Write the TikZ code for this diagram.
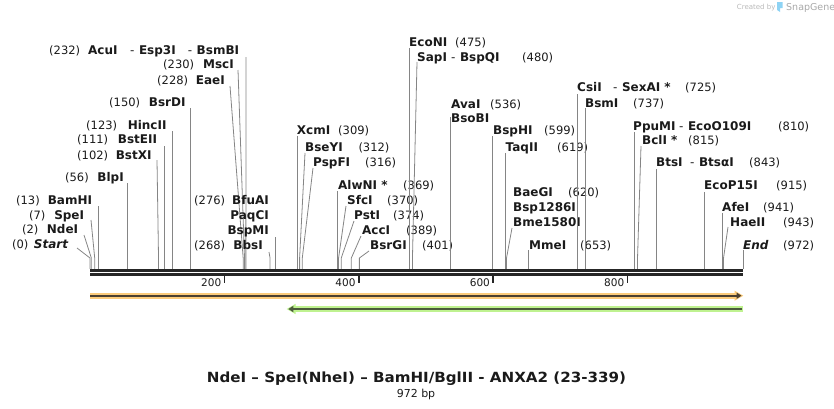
\documentclass[tikz,border=0pt]{standalone}
\usepackage{fontspec}
\setmainfont{DejaVu Sans}
\newfontfamily\titlefont[FakeStretch=1.08]{DejaVu Sans}
\usetikzlibrary{arrows.meta}
\definecolor{ink}{HTML}{1A1A1A}
\definecolor{lead}{HTML}{858585}
\definecolor{orf}{HTML}{FBCB7B}
\definecolor{orfline}{HTML}{4A3F30}
\definecolor{grn}{HTML}{BFF290}
\definecolor{grnline}{HTML}{4B5A3C}
\definecolor{bb}{HTML}{262626}
\definecolor{logo}{HTML}{A8A8A8}
\definecolor{logoblue}{HTML}{8ED3F4}
\begin{document}
\begin{tikzpicture}[x=1pt,y=-1pt,
  nm/.style={anchor=base west,inner sep=0,font=\fontsize{12}{14}\selectfont\bfseries,text=ink},
  nmr/.style={nm,anchor=base east},
  nmi/.style={nm,font=\fontsize{12}{14}\selectfont\bfseries\itshape},
  nmir/.style={nmi,anchor=base east},
  num/.style={anchor=base west,inner sep=0,font=\fontsize{11.5}{14}\selectfont,text=ink},
  ld/.style={draw=lead,line width=0.8pt},
  bbline/.style={draw=bb,line width=2.7pt},
  tick/.style={draw=bb,line width=1.6pt},
  ticklab/.style={anchor=base east,inner sep=0,font=\fontsize{10.5}{12}\selectfont,text=ink},
]
\useasboundingbox (0,0) rectangle (834,408);

% ---------- backbone ----------
\coordinate (bbL1) at (90,270.3);
\coordinate (bbR1) at (743,270.3);
\coordinate (bbL2) at (90,274.4);
\coordinate (bbR2) at (743,274.4);
\draw[bbline] (bbL1) -- (bbR1);
\draw[bbline] (bbL2) -- (bbR2);

% ticks
\foreach \v/\xx in {200/224.4,400/358.7,600/493.1,800/627.4}{
  \coordinate (t\v a) at (\xx,275.5);
  \coordinate (t\v b) at (\xx,283);
  \draw[tick] (t\v a) -- (t\v b);
  \node[ticklab] (tl\v) at (\xx-3,286.5) {\v};
}

% ---------- features ----------
\coordinate (oL) at (90,295.7);
\coordinate (oR) at (737,295.7);
\coordinate (oT) at (743.3,295.7);
\draw[orf,line width=6.4pt] (oL) -- (oR);
\fill[orf] (734.5,290.6) -- (oT) -- (734.5,300.8) -- cycle;
\draw[orfline,line width=1.6pt,-{Triangle[length=5pt,width=6pt]}] (oL) -- (741.5,295.7);

\coordinate (gL) at (286.7,309);
\coordinate (gR) at (743,309);
\draw[grn,line width=6.4pt] (293,309) -- (gR);
\fill[grn] (295.5,303.9) -- (gL) -- (295.5,314.1) -- cycle;
\draw[grnline,line width=1.6pt,-{Triangle[length=5pt,width=6pt]}] (741.5,309) -- (288.3,309);

% ---------- site coordinates ----------
\foreach \p/\xx in {0/90,2/91.34,7/94.70,13/98.73,56/127.62,102/158.52,111/164.57,123/172.63,150/190.77,228/243.17,230/244.51,232/245.86,268/270.04,276/275.42,309/297.59,312/299.60,316/302.29,369/337.89,370/338.57,374/341.25,389/351.33,401/359.39,475/409.11,480/412.46,536/450.08,599/492.41,619/505.84,620/506.51,653/528.69,725/577.06,737/585.12,810/634.16,815/637.52,843/656.33,915/704.70,941/722.16,943/723.51,972/743}{
  \coordinate (s\p) at (\xx,268.9);
  \coordinate (k\p) at (\xx,258);
}

% ---------- left labels ----------
\node[num] (n232) at (49,54.5) {(232)};
\node[nm] (e232a) at (88,54.5) {AcuI};
\node[nm] (e232b) at (130,54.5) {{\mdseries -}\hspace{4.5pt}Esp3I};
\node[nm] (e232c) at (187.7,54.5) {{\mdseries -}\hspace{4.5pt}BsmBI};
\draw[ld] (246,57) -- (s232);

\node[num] (n230) at (163,68.5) {(230)};
\node[nmr] (e230) at (234,68.5) {MscI};
\draw[ld] (238,70) -- (k230) -- (s230);

\node[num] (n228) at (157,84.5) {(228)};
\node[nmr] (e228) at (225,84.5) {EaeI};
\draw[ld] (230,86) -- (k228) -- (s228);

\node[num] (n150) at (109,106.5) {(150)};
\node[nmr] (e150) at (185.7,106.5) {BsrDI};
\draw[ld] (190.77,108) -- (s150);

\node[num] (n123) at (86,129.5) {(123)};
\node[nmr] (e123) at (166.7,129.5) {HincII};
\draw[ld] (172.63,131) -- (s123);

\node[num] (n111) at (77,143.5) {(111)};
\node[nmr] (e111) at (157.3,143.5) {BstEII};
\draw[ld] (164.57,146) -- (s111);

\node[num] (n102) at (77,159.5) {(102)};
\node[nmr] (e102) at (151.7,159.5) {BstXI};
\draw[ld] (157,160) -- (k102) -- (s102);

\node[num] (n56) at (65,181.5) {(56)};
\node[nmr] (e56) at (124,181.5) {BlpI};
\draw[ld] (127.62,183) -- (s56);

\node[num] (n13) at (16,204.5) {(13)};
\node[nmr] (e13) at (92.3,204.5) {BamHI};
\draw[ld] (98.73,206) -- (s13);

\node[num] (n7) at (29,219.5) {(7)};
\node[nmr] (e7) at (84.3,219.5) {SpeI};
\draw[ld] (91,220) -- (k7) -- (s7);

\node[num] (n2) at (22,233.5) {(2)};
\node[nmr] (e2) at (78.3,233.5) {NdeI};
\draw[ld] (84,235) -- (k2) -- (s2);

\node[num] (n0) at (12,248.5) {(0)};
\node[nmir] (e0) at (68.3,248.5) {Start};
\draw[ld] (77,248) -- (k0) -- (s0);

\node[num] (n276) at (194,204.5) {(276)};
\node[nmr] (e276a) at (269,204.5) {BfuAI};
\node[nmr] (e276b) at (269,219.5) {PaqCI};
\node[nmr] (e276c) at (269,234.5) {BspMI};
\draw[ld] (275.42,237) -- (s276);

\node[num] (n268) at (194,249.5) {(268)};
\node[nmr] (e268) at (263,249.5) {BbsI};
\draw[ld] (269,252) -- (k268) -- (s268);

% ---------- middle labels ----------
\node[nm] (e309) at (296.7,134.5) {XcmI};
\node[num] (n309) at (338,134.5) {(309)};
\draw[ld] (297.59,136) -- (s309);

\node[nm] (e312) at (305,151.5) {BseYI};
\node[num] (n312) at (358.3,151.5) {(312)};
\draw[ld] (305,153) -- (k312) -- (s312);

\node[nm] (e316) at (313,166.5) {PspFI};
\node[num] (n316) at (365,166.5) {(316)};
\draw[ld] (313,168) -- (k316) -- (s316);

\node[nm] (e369) at (338,189.5) {AlwNI *};
\node[num] (n369) at (403,189.5) {(369)};
\draw[ld] (337.89,191) -- (s369);

\node[nm] (e370) at (347,204.5) {SfcI};
\node[num] (n370) at (387,204.5) {(370)};
\draw[ld] (346,206) -- (k370) -- (s370);

\node[nm] (e374) at (354,219.5) {PstI};
\node[num] (n374) at (393,219.5) {(374)};
\draw[ld] (354,221) -- (k374) -- (s374);

\node[nm] (e389) at (362,234.5) {AccI};
\node[num] (n389) at (406,234.5) {(389)};
\draw[ld] (361,236) -- (k389) -- (s389);

\node[nm] (e401) at (370,249.5) {BsrGI};
\node[num] (n401) at (422,249.5) {(401)};
\draw[ld] (369,251) -- (k401) -- (s401);

\node[nm] (e475) at (409,46.5) {EcoNI};
\node[num] (n475) at (455,46.5) {(475)};
\draw[ld] (409.11,48) -- (s475);

\node[nm] (e480a) at (417,61.5) {SapI};
\node[nm] (e480b) at (451,61.5) {{\mdseries -}\hspace{4.5pt}BspQI};
\node[num] (n480) at (522,61.5) {(480)};
\draw[ld] (417,62) -- (k480) -- (s480);

\node[nm] (e536a) at (451,108.5) {AvaI};
\node[num] (n536) at (490,108.5) {(536)};
\node[nm] (e536b) at (451,122.5) {BsoBI};
\draw[ld] (450.08,117) -- (s536);

\node[nm] (e599) at (493,134.5) {BspHI};
\node[num] (n599) at (544,134.5) {(599)};
\draw[ld] (492.41,136) -- (s599);

\node[nm] (e619) at (505.5,151.5) {TaqII};
\node[num] (n619) at (557,151.5) {(619)};
\draw[ld] (505.84,153) -- (s619);

\node[nm] (e620a) at (513,196.5) {BaeGI};
\node[num] (n620) at (568,196.5) {(620)};
\node[nm] (e620b) at (513,211.5) {Bsp1286I};
\node[nm] (e620c) at (513,226.5) {Bme1580I};
\draw[ld] (512,228) -- (k620) -- (s620);

\node[nm] (e653) at (529,249.5) {MmeI};
\node[num] (n653) at (580,249.5) {(653)};
\draw[ld] (528.69,250) -- (s653);

% ---------- right labels ----------
\node[nm] (e725a) at (577,91.5) {CsiI};
\node[nm] (e725b) at (613,91.5) {{\mdseries -}\hspace{4.5pt}SexAI *};
\node[num] (n725) at (685,91.5) {(725)};
\draw[ld] (577.06,94) -- (s725);

\node[nm] (e737) at (585,107.5) {BsmI};
\node[num] (n737) at (633,107.5) {(737)};
\draw[ld] (585.12,108) -- (s737);

\node[nm] (e810a) at (633,130.5) {PpuMI};
\node[nm] (e810b) at (679,130.5) {{\mdseries -}\hspace{4.5pt}EcoO109I};
\node[num] (n810) at (778,130.5) {(810)};
\draw[ld] (634.16,132) -- (s810);

\node[nm] (e815) at (642,144.5) {BclI *};
\node[num] (n815) at (688,144.5) {(815)};
\draw[ld] (641,146) -- (k815) -- (s815);

\node[nm] (e843a) at (656,166.5) {BtsI};
\node[nm] (e843b) at (690,166.5) {{\mdseries -}\hspace{4.5pt}BtsαI};
\node[num] (n843) at (749,166.5) {(843)};
\draw[ld] (656.33,169) -- (s843);

\node[nm] (e915) at (704,189.5) {EcoP15I};
\node[num] (n915) at (776,189.5) {(915)};
\draw[ld] (704.70,192) -- (s915);

\node[nm] (e941) at (722,211.5) {AfeI};
\node[num] (n941) at (763,211.5) {(941)};
\draw[ld] (722.16,213) -- (s941);

\node[nm] (e943) at (730,226.5) {HaeII};
\node[num] (n943) at (783,226.5) {(943)};
\draw[ld] (728,227) -- (k943) -- (s943);

\node[nmi] (e972) at (743,249.5) {End};
\node[num] (n972) at (783,249.5) {(972)};
\draw[ld] (743,250) -- (s972);

% ---------- title ----------
\node[inner sep=0,anchor=base,font=\titlefont\fontsize{14}{16}\selectfont\bfseries,text=ink] (title) at (416.5,382) {NdeI – SpeI(NheI) – BamHI/BglII - ANXA2 (23-339)};
\node[inner sep=0,anchor=base,font=\fontsize{11}{13}\selectfont,text=ink] (len) at (416,397) {972 bp};

% ---------- logo ----------
\node[inner sep=0,anchor=base west,font=\fontsize{7}{8}\selectfont,text=logo!80] (cb) at (736.7,9.8) {Created by};
\fill[logoblue] (777,2) -- (782.5,2) -- (782.5,8) -- (780,8) -- (780,12) -- (777,10) -- cycle;
\node[inner sep=0,anchor=base west,font=\fontsize{9.5}{10}\selectfont,text=logo] (sg) at (786,10.8) {SnapGene};
\end{tikzpicture}
\end{document}
